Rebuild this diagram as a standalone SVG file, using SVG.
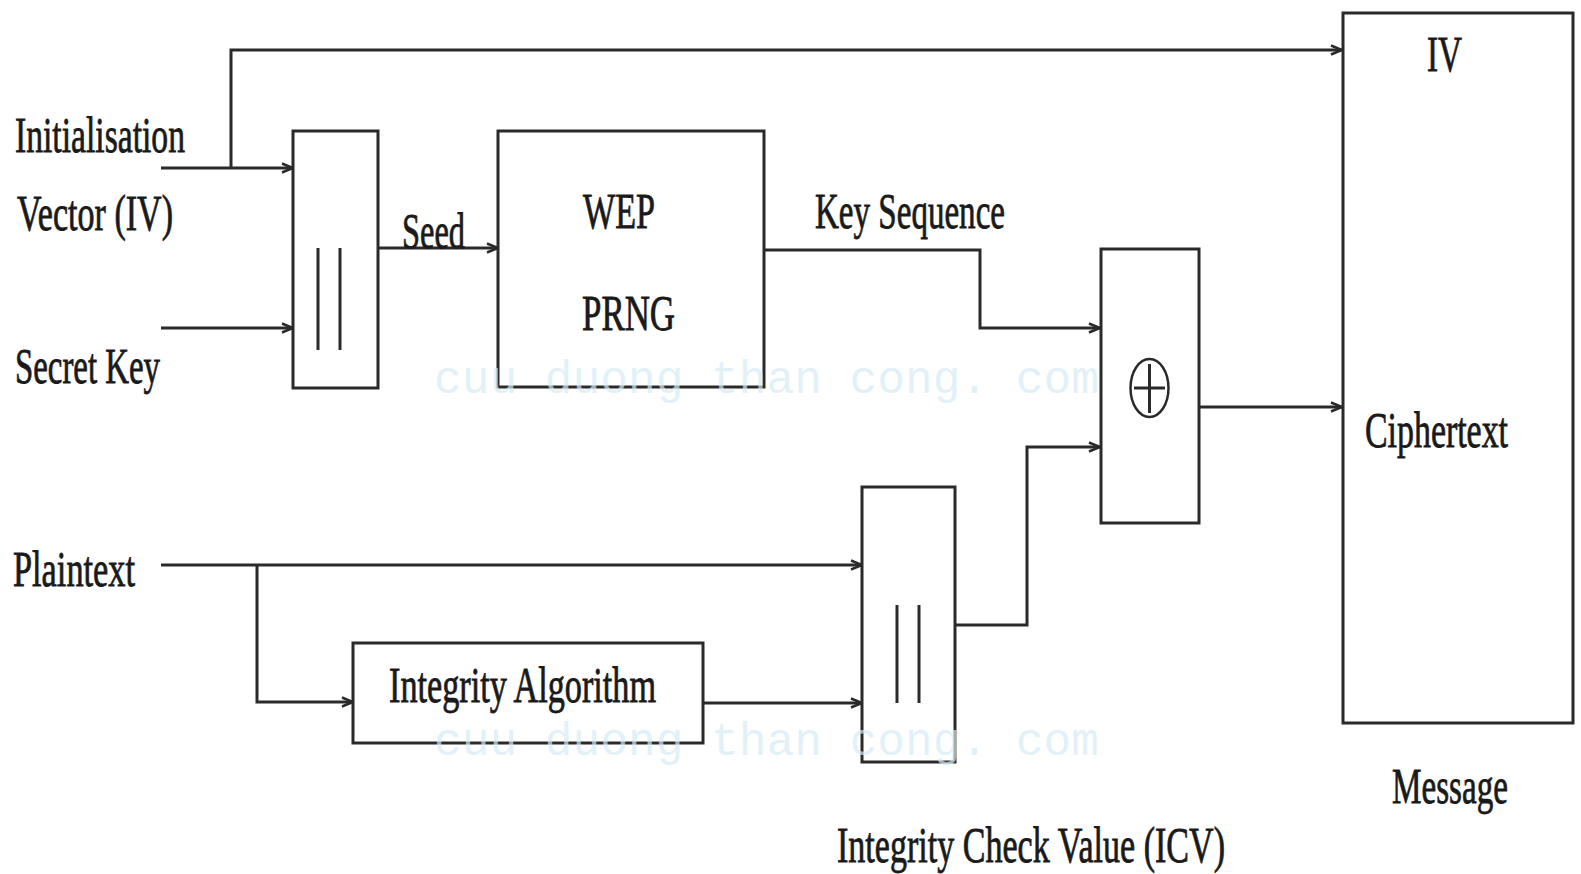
<svg xmlns="http://www.w3.org/2000/svg" width="1581" height="874" viewBox="0 0 1581 874">
  <style>
    .box { fill: #ffffff; stroke: #2a2a2a; stroke-width: 3; }
    .bar { fill: none; stroke: #2a2a2a; stroke-width: 3; }
    .conn { fill: none; stroke: #2a2a2a; stroke-width: 3; marker-end: url(#arrow); }
    .lbl { font-family: "Liberation Serif", "Times New Roman", serif; font-size: 50px; fill: #1a1a1a; stroke: #1a1a1a; stroke-width: 0.8px; }
    .wm { font-family: "Liberation Mono", "DejaVu Sans Mono", monospace; font-size: 46px; fill: #d6ebf5; fill-opacity: 0.7; }
  </style>
  <defs>
    <marker id="arrow" markerUnits="userSpaceOnUse" markerWidth="14" markerHeight="12" refX="12" refY="6" orient="auto">
      <path d="M1,1.5 L12,6 L1,10.5" fill="none" stroke="#2a2a2a" stroke-width="2.5"/>
    </marker>
  </defs>
  <rect width="1581" height="874" fill="#ffffff"/>

  <g id="connectors">
    <path class="conn" d="M161,168 H293"/>
    <path class="conn" d="M231,168 V50 H1342"/>
    <path class="conn" d="M161,328 H293"/>
    <path class="conn" d="M378,248 H498"/>
    <path class="conn" d="M764,250 H980 V328 H1100"/>
    <path class="conn" d="M1199,407 H1342"/>
    <path class="conn" d="M161,565 H862"/>
    <path class="conn" d="M257,565 V702 H353"/>
    <path class="conn" d="M703,703 H862"/>
    <path class="conn" d="M955,625 H1027 V447 H1100"/>
  </g>

  <g id="iv-input">
    <text class="lbl" x="15" y="152" textLength="170" lengthAdjust="spacingAndGlyphs">Initialisation</text>
    <text class="lbl" x="17" y="230" textLength="156" lengthAdjust="spacingAndGlyphs">Vector (IV)</text>
  </g>
  <g id="secret-key">
    <text class="lbl" x="15" y="383" textLength="145" lengthAdjust="spacingAndGlyphs">Secret Key</text>
  </g>
  <g id="plaintext">
    <text class="lbl" x="13" y="586" textLength="122" lengthAdjust="spacingAndGlyphs">Plaintext</text>
  </g>

  <g id="concat-seed">
    <rect class="box" x="293" y="131" width="85" height="257"/>
    <line class="bar" x1="318" y1="248" x2="318" y2="350"/>
    <line class="bar" x1="340" y1="248" x2="340" y2="350"/>
  </g>
  <g id="seed-label">
    <text class="lbl" x="402" y="248" textLength="63" lengthAdjust="spacingAndGlyphs">Seed</text>
  </g>

  <g id="wep-prng">
    <rect class="box" x="498" y="131" width="266" height="256"/>
    <text class="lbl" x="583" y="228" textLength="72" lengthAdjust="spacingAndGlyphs">WEP</text>
    <text class="lbl" x="582" y="330" textLength="93" lengthAdjust="spacingAndGlyphs">PRNG</text>
  </g>
  <g id="key-sequence-label">
    <text class="lbl" x="815" y="228" textLength="190" lengthAdjust="spacingAndGlyphs">Key Sequence</text>
  </g>

  <g id="xor">
    <rect class="box" x="1101" y="249" width="98" height="274"/>
    <ellipse cx="1149.5" cy="388" rx="19" ry="29" fill="none" stroke="#2a2a2a" stroke-width="2.5"/>
    <line class="bar" x1="1149.5" y1="364" x2="1149.5" y2="413" stroke-width="2.5"/>
    <line class="bar" x1="1134" y1="388" x2="1165" y2="388" stroke-width="2.5"/>
  </g>

  <g id="message">
    <rect class="box" x="1343" y="13" width="230" height="710"/>
    <text class="lbl" x="1427" y="71" textLength="35" lengthAdjust="spacingAndGlyphs">IV</text>
    <text class="lbl" x="1365" y="447" textLength="143" lengthAdjust="spacingAndGlyphs">Ciphertext</text>
    <text class="lbl" x="1392" y="803" textLength="116" lengthAdjust="spacingAndGlyphs">Message</text>
  </g>

  <g id="integrity-algorithm">
    <rect class="box" x="353" y="643" width="350" height="100"/>
    <text class="lbl" x="389" y="702" textLength="267" lengthAdjust="spacingAndGlyphs">Integrity Algorithm</text>
  </g>

  <g id="concat-icv">
    <rect class="box" x="862" y="487" width="93" height="275"/>
    <line class="bar" x1="897" y1="605" x2="897" y2="703"/>
    <line class="bar" x1="919" y1="605" x2="919" y2="703"/>
  </g>
  <g id="icv-label">
    <text class="lbl" x="837" y="862" textLength="388" lengthAdjust="spacingAndGlyphs">Integrity Check Value (ICV)</text>
  </g>

  <g id="watermark">
    <text class="wm" x="434" y="393" textLength="665" lengthAdjust="spacingAndGlyphs">cuu duong than cong. com</text>
    <text class="wm" x="434" y="755" textLength="665" lengthAdjust="spacingAndGlyphs">cuu duong than cong. com</text>
  </g>
</svg>
